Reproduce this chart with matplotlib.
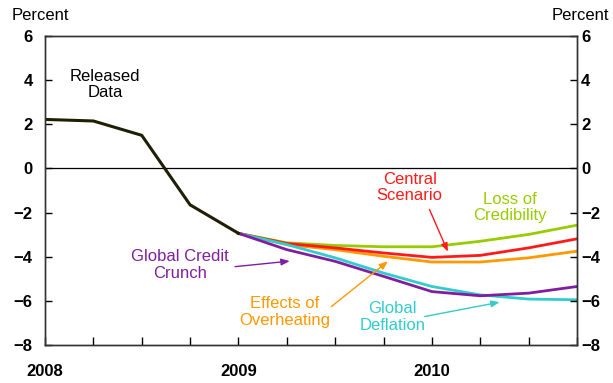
import numpy as np
import matplotlib.pyplot as plt

plt.rcParams['font.family'] = ['Liberation Sans', 'DejaVu Sans']

# quarters since 2008Q1
q_released = [0, 1, 2, 3, 4]
released = [2.22, 2.15, 1.5, -1.65, -2.94]

q_scen = [4, 5, 6, 7, 8, 9, 10, 11]
credibility = [-2.94, -3.37, -3.49, -3.55, -3.55, -3.30, -2.99, -2.57]
central = [-2.94, -3.40, -3.60, -3.83, -4.03, -3.94, -3.60, -3.19]
overheating = [-2.94, -3.45, -3.68, -3.98, -4.24, -4.24, -4.05, -3.75]
deflation = [-2.94, -3.45, -4.05, -4.74, -5.35, -5.73, -5.92, -5.95]
credit_crunch = [-2.94, -3.68, -4.21, -4.89, -5.58, -5.77, -5.65, -5.35]

year_ticks = [0, 4, 8]
year_labels = ['2008', '2009', '2010']

c_green = '#99cc00'
c_red = '#ff1a1a'
c_orange = '#ff9900'
c_cyan = '#33cccc'
c_purple = '#7f1f9f'

fig = plt.figure(figsize=(6.13, 3.83), dpi=100)
ax = fig.add_axes([45 / 613, 1 - 345 / 383, 532 / 613, 309 / 383])

lw = 2.0
ax.axhline(0, color='black', lw=0.9)
ax.plot(q_scen, credibility, color=c_green, lw=lw)
ax.plot(q_scen, overheating, color=c_orange, lw=lw)
ax.plot(q_scen, central, color=c_red, lw=lw)
ax.plot(q_scen, deflation, color=c_cyan, lw=lw)
ax.plot(q_scen, credit_crunch, color=c_purple, lw=lw)
ax.plot(q_released, released, color='#1f1f05', lw=lw + 0.2)

ax.set_xlim(0, 11)
ax.set_ylim(-8, 6)
ax.set_yticks(np.arange(-8, 7, 2))
ax.set_xticks(range(0, 12))
ax.set_xticklabels([year_labels[year_ticks.index(i)] if i in year_ticks else '' for i in range(12)])

for s in ax.spines.values():
    s.set_color('#333333')
    s.set_linewidth(1.0)

ax.tick_params(axis='x', direction='in', length=6, width=1, pad=14, labelsize=12)
ax.tick_params(axis='y', direction='in', length=5, width=1, labelsize=12, pad=9)

# right-hand axis with the same scale
ax2 = ax.twinx()
ax2.set_ylim(ax.get_ylim())
ax2.set_yticks(np.arange(-8, 7, 2))
ax2.tick_params(axis='y', direction='in', length=5, width=1, labelsize=12, pad=3)
for s in ax2.spines.values():
    s.set_color('#333333')
    s.set_linewidth(1.0)

for lab in ax.get_yticklabels() + ax2.get_yticklabels() + ax.get_xticklabels():
    lab.set_fontweight('bold')

fig.text(12 / 613, 1 - 16 / 383, 'Percent', fontsize=12, va='center', ha='left')
fig.text(609 / 613, 1 - 16 / 383, 'Percent', fontsize=12, va='center', ha='right')

fs = 12
ls = 1.15
ax.text(1.24, 3.8, 'Released\nData', color='black', fontsize=fs, ha='center', va='center', linespacing=ls)
ax.text(7.54, -0.86, 'Central\nScenario', color=c_red, fontsize=fs, ha='center', va='center', linespacing=ls)
ax.text(9.61, -1.77, 'Loss of\nCredibility', color=c_green, fontsize=fs, ha='center', va='center', linespacing=ls)
ax.text(4.96, -6.5, 'Effects of\nOverheating', color=c_orange, fontsize=fs, ha='center', va='center', linespacing=ls)
ax.text(7.19, -6.72, 'Global\nDeflation', color=c_cyan, fontsize=fs, ha='center', va='center', linespacing=ls)
ax.text(2.79, -4.36, 'Global Credit\nCrunch', color=c_purple, fontsize=fs, ha='center', va='center', linespacing=ls)

def arrow(x0, y0, x1, y1, c):
    ax.annotate('', xy=(x1, y1), xytext=(x0, y0),
                arrowprops=dict(arrowstyle='-|>,head_length=0.5,head_width=0.2', color=c, lw=1.0,
                                shrinkA=0, shrinkB=0))

arrow(7.95, -1.86, 8.33, -3.77, c_red)
arrow(5.92, -6.26, 7.09, -4.21, c_orange)
arrow(7.85, -6.71, 9.4, -6.06, c_cyan)
arrow(3.93, -4.45, 5.06, -4.2, c_purple)

fig.savefig('out.png', dpi=100)
